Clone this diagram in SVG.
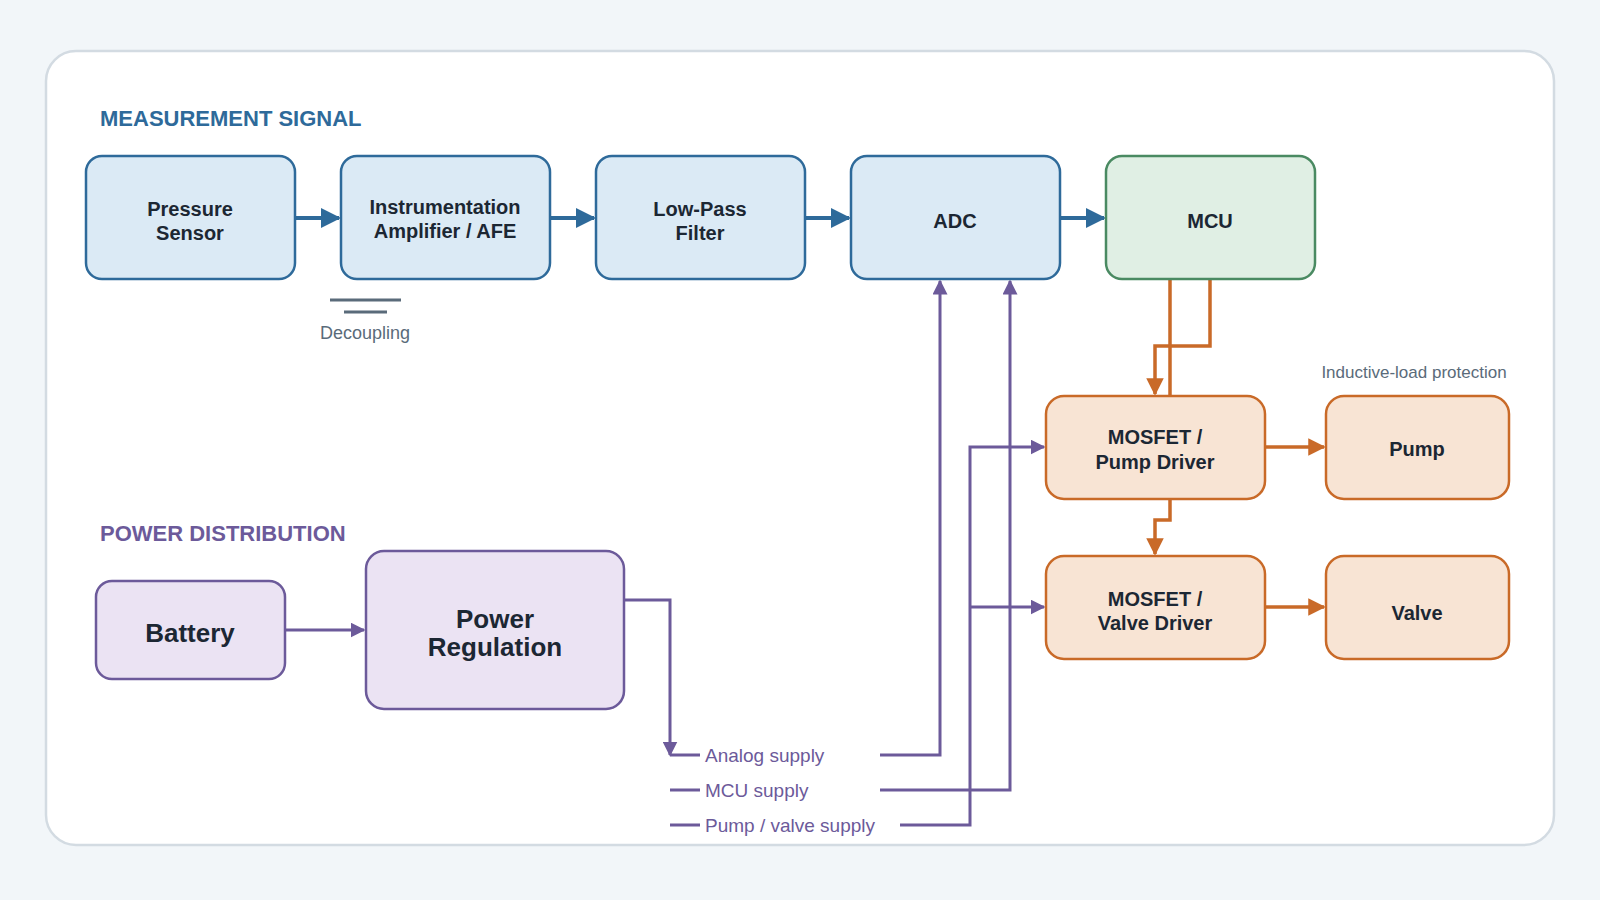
<svg xmlns="http://www.w3.org/2000/svg" width="1600" height="900" viewBox="0 0 1600 900">
<defs>
<marker id="ab" viewBox="0 0 10 10" refX="9" refY="5" markerWidth="5" markerHeight="5" orient="auto-start-reverse"><path d="M0,0L10,5L0,10z" fill="#2e6a9a"/></marker>
<marker id="ao" viewBox="0 0 10 10" refX="9" refY="5" markerWidth="5" markerHeight="5" orient="auto-start-reverse"><path d="M0,0L10,5L0,10z" fill="#c96a28"/></marker>
<marker id="ap" viewBox="0 0 10 10" refX="9" refY="5" markerWidth="5" markerHeight="5" orient="auto-start-reverse"><path d="M0,0L10,5L0,10z" fill="#6c5a9a"/></marker>
</defs>
<style>
text{font-family:"Liberation Sans",Arial,sans-serif}
.b{fill:#dbeaf5;stroke:#2e6a9a;stroke-width:2.5}
.g{fill:#e0efe4;stroke:#4a8a62;stroke-width:2.5}
.o{fill:#f8e4d4;stroke:#c96a28;stroke-width:2.5}
.p{fill:#ebe3f3;stroke:#6c5a9a;stroke-width:2.5}
.t{font-size:20px;font-weight:bold;fill:#1c2733;text-anchor:middle}
.tl{font-size:26px;font-weight:bold;fill:#1c2733;text-anchor:middle}
.cb{fill:none;stroke:#2e6a9a;stroke-width:4;marker-end:url(#ab)}
.co{fill:none;stroke:#c96a28;stroke-width:3.5}
.cp{fill:none;stroke:#6c5a9a;stroke-width:3}
.sl{font-size:19px;fill:#6c5a9a}
</style>
<rect width="1600" height="900" fill="#f2f6f9"/>
<rect x="46" y="51" width="1508" height="794" rx="30" fill="#fff" stroke="#d3dbe2" stroke-width="2.5"/>
<text x="100" y="126" font-size="22" font-weight="bold" fill="#2e6a9a">MEASUREMENT SIGNAL</text>
<text x="100" y="541" font-size="22" font-weight="bold" fill="#6c5a9a">POWER DISTRIBUTION</text>
<text x="1414" y="378" font-size="17" fill="#5a6b7a" text-anchor="middle">Inductive-load protection</text>
<g id="decoupling"><path d="M330 300H401M344 312H387" stroke="#5a6b7a" stroke-width="3"/><text x="365" y="339" font-size="18" fill="#5a6b7a" text-anchor="middle">Decoupling</text></g>
<g id="connectors">
<path class="cb" d="M295 218H339"/><path class="cb" d="M550 218H594"/><path class="cb" d="M805 218H849"/><path class="cb" d="M1060 218H1104"/>
<path class="co" marker-end="url(#ao)" d="M1210 279V346H1155V394"/>
<path class="co" marker-end="url(#ao)" d="M1170 279V520H1155V554"/>
<path class="co" marker-end="url(#ao)" d="M1265 447H1324"/>
<path class="co" marker-end="url(#ao)" d="M1265 607H1324"/>
<path class="cp" marker-end="url(#ap)" d="M285 630H364"/>
<path class="cp" marker-end="url(#ap)" d="M624 600H670V755"/>
<path class="cp" d="M670 755H700M670 790H700M670 825H700"/>
<path class="cp" marker-end="url(#ap)" d="M880 755H940V281"/>
<path class="cp" marker-end="url(#ap)" d="M880 790H1010V281"/>
<path class="cp" marker-end="url(#ap)" d="M900 825H970V447H1044"/>
<path class="cp" marker-end="url(#ap)" d="M970 607H1044"/>
</g>
<text class="sl" x="705" y="762">Analog supply</text>
<text class="sl" x="705" y="797">MCU supply</text>
<text class="sl" x="705" y="832">Pump / valve supply</text>
<g id="sensor"><rect class="b" x="86" y="156" width="209" height="123" rx="16"/><text class="t" x="190" y="216">Pressure</text><text class="t" x="190" y="240">Sensor</text></g>
<g id="afe"><rect class="b" x="341" y="156" width="209" height="123" rx="16"/><text class="t" x="445" y="214">Instrumentation</text><text class="t" x="445" y="238">Amplifier / AFE</text></g>
<g id="lpf"><rect class="b" x="596" y="156" width="209" height="123" rx="16"/><text class="t" x="700" y="216">Low-Pass</text><text class="t" x="700" y="240">Filter</text></g>
<g id="adc"><rect class="b" x="851" y="156" width="209" height="123" rx="16"/><text class="t" x="955" y="228">ADC</text></g>
<g id="mcu"><rect class="g" x="1106" y="156" width="209" height="123" rx="16"/><text class="t" x="1210" y="228">MCU</text></g>
<g id="pumpdrv"><rect class="o" x="1046" y="396" width="219" height="103" rx="18"/><text class="t" x="1155" y="444">MOSFET /</text><text class="t" x="1155" y="469">Pump Driver</text></g>
<g id="valvedrv"><rect class="o" x="1046" y="556" width="219" height="103" rx="18"/><text class="t" x="1155" y="606">MOSFET /</text><text class="t" x="1155" y="630">Valve Driver</text></g>
<g id="pump"><rect class="o" x="1326" y="396" width="183" height="103" rx="18"/><text class="t" x="1417" y="456">Pump</text></g>
<g id="valve"><rect class="o" x="1326" y="556" width="183" height="103" rx="18"/><text class="t" x="1417" y="620">Valve</text></g>
<g id="battery"><rect class="p" x="96" y="581" width="189" height="98" rx="16"/><text class="tl" x="190" y="642">Battery</text></g>
<g id="reg"><rect class="p" x="366" y="551" width="258" height="158" rx="18"/><text class="tl" x="495" y="628">Power</text><text class="tl" x="495" y="656">Regulation</text></g>
<path class="co" d="M1170 279V520" style="display:none"/>
</svg>
